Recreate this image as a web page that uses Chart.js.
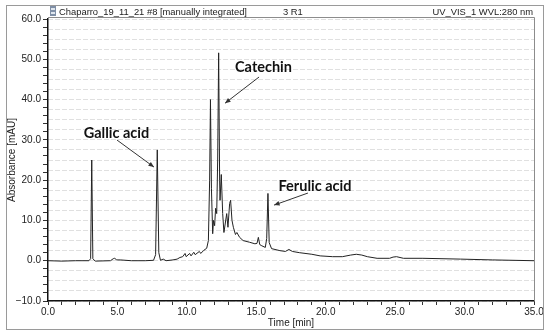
<!DOCTYPE html>
<html><head><meta charset="utf-8">
<script src="https://cdn.jsdelivr.net/npm/chart.js@4.4.1/dist/chart.umd.min.js"></script>
<style>html,body{margin:0;padding:0;background:#fff}</style>
</head><body>
<canvas id="c" width="550" height="336" style="display:block;width:550px;height:336px"></canvas>
<script>
// ---- data ----
const timeMin = [0.0,1.0,2.0,2.95,3.07,3.15,3.23,3.4,4.5,4.7,4.8,4.95,5.2,6.0,7.0,7.6,7.75,7.87,7.98,8.1,8.3,8.5,9.0,9.3,9.5,9.7,9.87,9.95,10.2,10.3,10.5,10.6,10.9,11.0,11.23,11.43,11.55,11.64,11.7,11.77,11.86,11.92,12.0,12.07,12.15,12.22,12.29,12.36,12.39,12.48,12.58,12.67,12.87,12.96,13.08,13.15,13.25,13.35,13.5,13.6,13.8,14.05,14.5,14.9,15.05,15.15,15.25,15.4,15.65,15.75,15.84,15.93,16.1,16.7,17.1,17.35,17.6,18.1,19.0,19.6,20.5,21.2,21.8,22.2,22.6,23.0,23.7,24.6,24.85,25.1,25.6,27.0,29.7,32.0,35.0];
const absorbance = [0.0,-0.1,0.0,0.0,0.5,25.0,0.5,-0.1,0.0,0.5,0.6,0.2,0.2,0.0,0.0,0.1,1.5,27.5,2.0,0.1,0.4,0.0,0.2,0.4,0.8,1.0,1.8,1.0,1.8,1.2,2.1,1.5,2.3,1.8,2.6,3.1,5.0,20,40.0,18,6.7,10,8.7,13,11.7,25,51.6,20,15,21.4,11.7,7.0,11.7,8.3,14.2,15,10,8.3,6.5,7.0,5.8,5.0,4.6,4.2,4.3,5.8,4.0,3.7,3.3,5.5,16.7,4.5,3.0,2.5,2.3,2.8,2.3,2.0,1.6,1.2,1.0,1.0,1.4,1.6,1.4,1.0,0.6,0.6,0.9,1.0,0.6,0.6,0.4,0.2,0.0];

const xTickLabels = [0,5,10,15,20,25,30,35];
const yTickLabels = [-10,0,10,20,30,40,50,60];

const headerLeft = "Chaparro_19_11_21 #8 [manually integrated]";
const headerMid = "3 R1";
const headerRight = "UV_VIS_1 WVL:280 nm";

// peak annotations: label position and arrow (data units)
const annLabels = ["Gallic acid","Catechin","Ferulic acid"];
const annLabelT = [4.93,15.52,19.23];
const annLabelV = [31.7,47.9,18.5];
const annFromT = [4.97,15.2,18.72];
const annFromV = [29.95,45.6,16.8];
const annToT = [7.63,12.75,16.28];
const annToV = [23.25,39.1,13.8];

// ---- chart ----
const fmt = v => (v < 0 ? "\u2212" + Math.abs(v).toFixed(1) : v.toFixed(1));
const axisFont = {family:"'Liberation Sans', Arial, sans-serif", size:10};

const overlay = {
  id:'overlay',
  afterDraw(chart){
    const ctx = chart.ctx, ca = chart.chartArea;
    const xs = chart.scales.x, ys = chart.scales.y;
    ctx.save();
    // outer frame
    ctx.strokeStyle = '#9a9a9a'; ctx.lineWidth = 1;
    ctx.strokeRect(6.5, 5.5, 537, 324);
    // plot frame top/right
    ctx.strokeStyle = '#8c8c8c';
    ctx.beginPath();
    ctx.moveTo(ca.left, ca.top - 1.5); ctx.lineTo(ca.right + 0.5, ca.top - 1.5); ctx.lineTo(ca.right + 0.5, ca.bottom);
    ctx.stroke();
    // header icon
    ctx.fillStyle = '#7f8fa6'; ctx.fillRect(50, 6, 6, 10);
    ctx.fillStyle = '#dfe6ee'; ctx.fillRect(51, 8, 4, 2); ctx.fillRect(51, 12, 4, 2);
    // header texts
    ctx.fillStyle = '#222';
    ctx.font = "9.4px 'Liberation Sans', Arial, sans-serif";
    ctx.textBaseline = 'alphabetic';
    ctx.textAlign = 'left';
    ctx.fillText(headerLeft, 59, 15);
    ctx.fillText(headerMid, 283, 15);
    ctx.textAlign = 'right';
    ctx.fillText(headerRight, 533, 15);
    // annotations
    ctx.font = "bold 14.5px Lato, 'Open Sans', sans-serif";
    ctx.textAlign = 'center'; ctx.textBaseline = 'middle';
    ctx.fillStyle = '#111';
    for (let i = 0; i < annLabels.length; i++) {
      ctx.fillText(annLabels[i], xs.getPixelForValue(annLabelT[i]), ys.getPixelForValue(annLabelV[i]));
      const x1 = xs.getPixelForValue(annFromT[i]), y1 = ys.getPixelForValue(annFromV[i]);
      const x2 = xs.getPixelForValue(annToT[i]), y2 = ys.getPixelForValue(annToV[i]);
      ctx.strokeStyle = '#333'; ctx.lineWidth = 1;
      ctx.beginPath(); ctx.moveTo(x1, y1); ctx.lineTo(x2, y2); ctx.stroke();
      const a = Math.atan2(y2 - y1, x2 - x1), L = 6, w = 0.4;
      ctx.fillStyle = '#333';
      ctx.beginPath();
      ctx.moveTo(x2, y2);
      ctx.lineTo(x2 - L*Math.cos(a - w), y2 - L*Math.sin(a - w));
      ctx.lineTo(x2 - L*Math.cos(a + w), y2 - L*Math.sin(a + w));
      ctx.closePath(); ctx.fill();
      ctx.fillStyle = '#111';
    }
    ctx.restore();
  }
};

new Chart(document.getElementById('c'), {
  type:'line',
  data:{
    datasets:[{
      data: timeMin.map((t,i)=>({x:t, y:absorbance[i]})),
      borderColor:'#222', borderWidth:1, pointRadius:0, tension:0, fill:false,
      yAxisID:'y'
    }]
  },
  options:{
    responsive:false, animation:false,
    layout:{padding:{left:0, right:16, top:19, bottom:0}},
    plugins:{legend:{display:false}, tooltip:{enabled:false}, title:{display:false}},
    scales:{
      x:{
        type:'linear', min:0, max:35,
        ticks:{stepSize:1, autoSkip:false, maxRotation:0, padding:1, color:'#222', font:axisFont,
          callback:v => xTickLabels.includes(v) ? fmt(v) : ''},
        grid:{drawOnChartArea:false, drawTicks:true, tickLength:4, color:'#333'},
        border:{display:true, color:'#111', width:1.5},
        title:{display:true, text:'Time [min]', color:'#222', font:axisFont, padding:{top:0, bottom:7}},
        afterFit(s){ s.height = 35; }
      },
      yGrid:{
        type:'linear', position:'left', min:-10, max:60,
        ticks:{display:false, stepSize:2.5},
        grid:{drawOnChartArea:true, drawTicks:false, color:'#e0e0e0', lineWidth:1},
        border:{display:false, dash:[5,2]},
        afterFit(s){ s.width = 0; }
      },
      y:{
        type:'linear', position:'left', min:-10, max:60,
        ticks:{stepSize:2, autoSkip:false, padding:2, color:'#222', font:axisFont,
          callback:v => yTickLabels.includes(v) ? fmt(v) : ''},
        grid:{drawOnChartArea:false, drawTicks:true, tickLength:5, color:'#333'},
        border:{display:true, color:'#111', width:1.5},
        title:{display:true, text:'Absorbance [mAU]', color:'#222', font:axisFont, padding:{top:6, bottom:0}},
        afterFit(s){ s.width = 48; }
      }
    }
  },
  plugins:[overlay]
});
</script>
</body></html>
